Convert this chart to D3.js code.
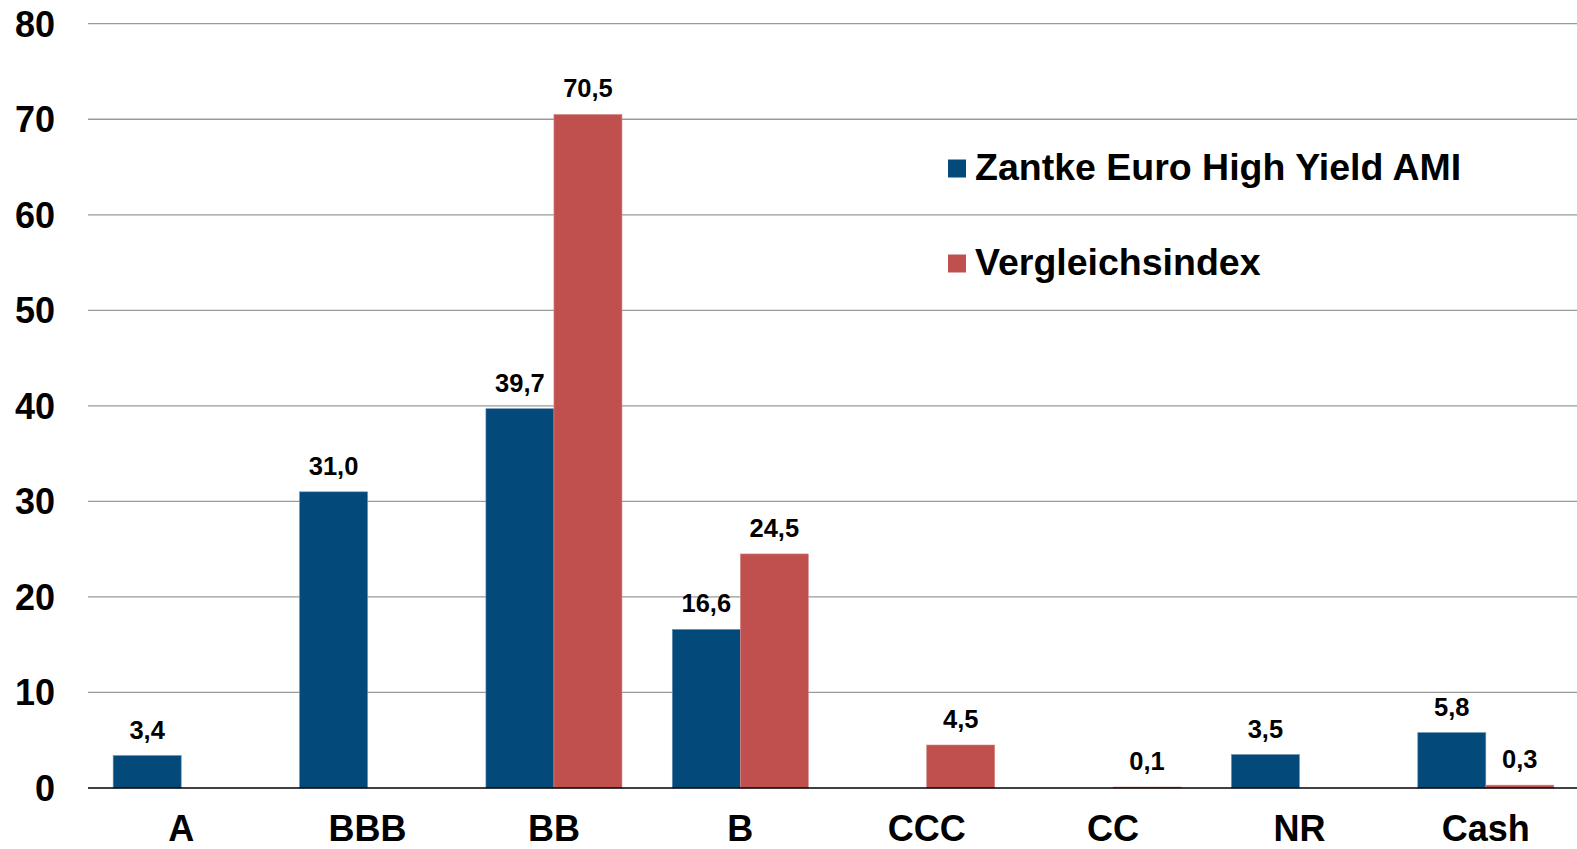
<!DOCTYPE html>
<html>
<head>
<meta charset="utf-8">
<script src="https://cdn.jsdelivr.net/npm/d3@7.9.0/dist/d3.min.js"></script>
<style>
  html, body { margin: 0; padding: 0; background: #fff; }
  svg { display: block; font-family: "Liberation Sans", Arial, sans-serif; font-weight: bold; }
</style>
</head>
<body>
<svg width="1577" height="849"></svg>
<script>
// ratings buckets
const categories = ['A', 'BBB', 'BB', 'B', 'CCC', 'CC', 'NR', 'Cash'];
const seriesNames = ['Zantke Euro High Yield AMI', 'Vergleichsindex'];
const fundValues = [3.4, 31.0, 39.7, 16.6, null, null, 3.5, 5.8];   // null = no bar
const indexValues = [null, null, 70.5, 24.5, 4.5, 0.1, null, 0.3];
const yTicks = [0, 10, 20, 30, 40, 50, 60, 70, 80];
const colors = ['#034a7b', '#c0504d'];

const svg = d3.select('svg');

const x = d3.scaleBand()
  .domain(categories)
  .range([88, 1579])
  .paddingInner(0.27)
  .paddingOuter(0.135);

const xSeries = d3.scaleBand()
  .domain(seriesNames)
  .range([0, x.bandwidth()]);

const y = d3.scaleLinear().domain([0, 80]).range([788, 23.7]);

// gridlines
svg.append('g')
  .selectAll('line')
  .data(yTicks.filter(d => d > 0))
  .join('line')
  .attr('x1', 88).attr('x2', 1577)
  .attr('y1', d => y(d)).attr('y2', d => y(d))
  .attr('stroke', '#9a9a9a')
  .attr('stroke-width', 1.3);

// y tick labels
svg.append('g')
  .selectAll('text')
  .data(yTicks)
  .join('text')
  .attr('x', 55)
  .attr('y', d => y(d))
  .attr('dy', '0.36em')
  .attr('text-anchor', 'end')
  .attr('font-size', 36)
  .text(d => d);

// bars
const rows = [];
categories.forEach((c, i) => {
  if (fundValues[i] != null) rows.push({ cat: c, s: 0, v: fundValues[i] });
  if (indexValues[i] != null) rows.push({ cat: c, s: 1, v: indexValues[i] });
});

svg.append('g')
  .selectAll('rect')
  .data(rows)
  .join('rect')
  .attr('x', d => x(d.cat) + xSeries(seriesNames[d.s]))
  .attr('width', xSeries.bandwidth())
  .attr('y', d => y(d.v))
  .attr('height', d => y(0) - y(d.v))
  .attr('fill', d => colors[d.s])
  .attr('stroke', d => d.s === 0 ? '#6a90b0' : '#d48a88')
  .attr('stroke-width', 0.6);

// value labels
svg.append('g')
  .selectAll('text')
  .data(rows)
  .join('text')
  .attr('x', d => x(d.cat) + xSeries(seriesNames[d.s]) + xSeries.bandwidth() / 2)
  .attr('y', d => y(d.v) - 17)
  .attr('text-anchor', 'middle')
  .attr('font-size', 25.5)
  .text(d => d3.format('.1f')(d.v).replace('.', ','));

// baseline
svg.append('line')
  .attr('x1', 88).attr('x2', 1577)
  .attr('y1', y(0)).attr('y2', y(0))
  .attr('stroke', '#000')
  .attr('stroke-width', 1.3);

// category labels
svg.append('g')
  .selectAll('text')
  .data(categories)
  .join('text')
  .attr('x', d => x(d) + x.bandwidth() / 2)
  .attr('y', 841)
  .attr('text-anchor', 'middle')
  .attr('font-size', 36)
  .text(d => d);

// legend
const legend = svg.append('g');
seriesNames.forEach((name, i) => {
  const ly = 168.5 + i * 95;
  legend.append('rect')
    .attr('x', 948).attr('y', ly - 9)
    .attr('width', 18).attr('height', 18)
    .attr('fill', colors[i]);
  legend.append('text')
    .attr('x', 975)
    .attr('y', ly + 11.5)
    .attr('font-size', 37.5)
    .text(name);
});
</script>
</body>
</html>
